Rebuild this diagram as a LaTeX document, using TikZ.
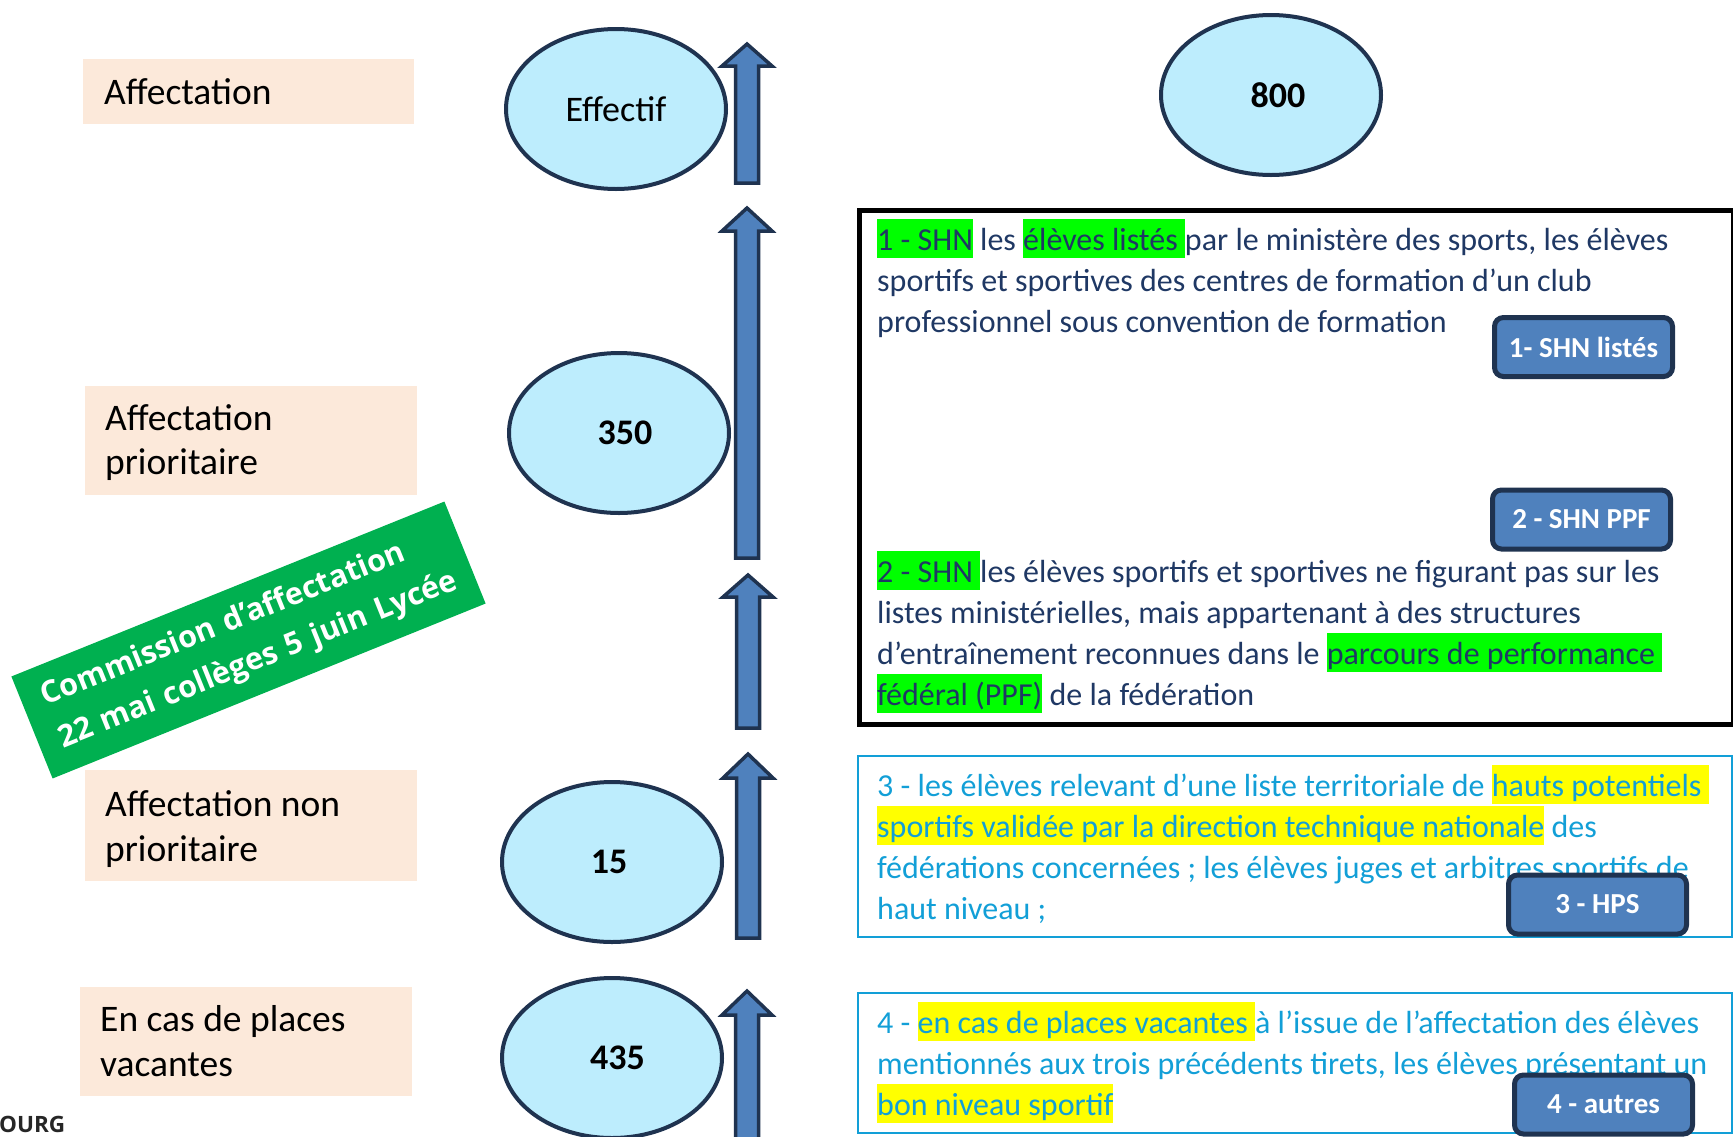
\documentclass[tikz,border=0pt]{standalone}
\usepackage{fontspec}
\setmainfont{Carlito}
\newfontfamily\bannerfont{Open Sans}
\usetikzlibrary{shapes.geometric}
\definecolor{peach}{HTML}{FCE9DA}
\definecolor{ellfill}{HTML}{BDEDFD}
\definecolor{navyline}{HTML}{1F3350}
\definecolor{arrowblue}{HTML}{4F81BD}
\definecolor{bannergreen}{HTML}{00B050}
\definecolor{hlgreen}{HTML}{00FF00}
\definecolor{hlyellow}{HTML}{FFFF00}
\definecolor{navytext}{HTML}{1F3864}
\definecolor{cyantext}{HTML}{129FD7}
\newcommand\hlbox[2]{{\setlength\fboxsep{0pt}\colorbox{#1}{\rule[-8pt]{0pt}{39pt}#2}}}
\newcommand\blockarrow[4]{%
  \draw[arrowbody] ({#1-11.5},#4) -- ({#1-11.5},#3) -- ({#1-25},#3) -- (#1,#2) -- ({#1+25},#3) -- ({#1+11.5},#3) -- ({#1+11.5},#4) -- cycle;}
\tikzset{
  peachbox/.style={fill=peach, inner sep=0, outer sep=0, anchor=north west},
  lefttxt/.style={anchor=base west, inner sep=0, font=\fontsize{37.5}{45}\selectfont},
  ellnode/.style={ellipse, draw=navyline, line width=4pt, fill=ellfill, minimum width=220pt, minimum height=160pt, inner sep=0, font=\fontsize{36}{43}\selectfont},
  arrowbody/.style={fill=arrowblue, draw=navyline, line width=3.5pt, line join=miter},
  navyline1/.style={anchor=base west, inner sep=0, text=navytext, font=\fontsize{32}{40}\selectfont},
  cyanline1/.style={anchor=base west, inner sep=0, text=cyantext, font=\fontsize{32}{40}\selectfont},
  btn/.style={rounded corners=9pt, fill=arrowblue, draw=navyline, line width=5pt, minimum width=178pt, minimum height=59pt, inner sep=0, text=white, font=\bfseries\fontsize{29}{34}\selectfont},
  cyanbox/.style={draw=cyantext, line width=2.5pt, inner sep=0, outer sep=0, anchor=north west},
  blackbox/.style={draw=black, line width=5pt, inner sep=0, outer sep=0, anchor=north west},
  banner/.style={rotate=22, fill=bannergreen, text=white, minimum width=467pt, minimum height=110pt, align=left, text width=455pt, inner xsep=6pt, inner ysep=0pt, font=\bannerfont\bfseries\fontsize{30.5}{46}\selectfont}
}
\begin{document}
\begin{tikzpicture}[x=1pt, y=-1pt]
\useasboundingbox (0,0) rectangle (1733,1136);
\begin{scope}
\clip (0,0) rectangle (1733,1136);
% peach boxes
\node[peachbox, minimum width=331pt, minimum height=65pt] (pb1) at (83,59) {};
\node[peachbox, minimum width=332pt, minimum height=109pt] (pb2) at (85,386) {};
\node[peachbox, minimum width=332pt, minimum height=111pt] (pb3) at (85,770) {};
\node[peachbox, minimum width=332pt, minimum height=109pt] (pb4) at (80,987) {};
\node[lefttxt] (a1) at (104,104) {Affectation};
\node[lefttxt] (a2) at (105,430) {Affectation};
\node[lefttxt] (a3) at (105,474) {prioritaire};
\node[lefttxt] (a4) at (105,816) {Affectation non};
\node[lefttxt] (a5) at (105,861) {prioritaire};
\node[lefttxt] (a6) at (100,1031) {En cas de places};
\node[lefttxt] (a7) at (100,1076) {vacantes};
% ellipses
\node[ellnode] (e1) at (616,109) {Effectif};
\node[ellnode] (e2) at (619,433) {\bfseries\hspace*{12pt}350};
\node[ellnode] (e3) at (612,862) {\bfseries 15\hspace*{6pt}};
\node[ellnode] (e4) at (612,1058) {\bfseries\hspace*{11pt}435};
\node[ellnode] (e5) at (1271,95) {\bfseries\hspace*{14pt}800};
% arrows
\blockarrow{747}{44}{66}{183}
\blockarrow{747}{208}{231}{558}
\blockarrow{748}{575}{597}{728}
\blockarrow{748}{754}{778}{938}
\blockarrow{747}{991}{1015}{1150}
% banner
\node[banner] (banner) at (248.5,640) {\hspace*{15pt}\mbox{Commission d’affectation}\\\hspace*{15pt}\mbox{22 mai collèges 5 juin Lycée}};
% black box
\node[blackbox, minimum width=874pt, minimum height=514.5pt] (box12) at (859.5,210) {};
\node[navyline1] (b1) at (877,250) {\hlbox{hlgreen}{1 - SHN} les \hlbox{hlgreen}{élèves listés }par le ministère des sports, les élèves};
\node[navyline1] (b2) at (877,291) {sportifs et sportives des centres de formation d’un club};
\node[navyline1] (b3) at (877,332) {professionnel sous convention de formation};
\node[navyline1] (b4) at (877,582) {\hlbox{hlgreen}{2 - SHN }les élèves sportifs et sportives ne figurant pas sur les};
\node[navyline1] (b5) at (877,623) {listes ministérielles, mais appartenant à des structures};
\node[navyline1] (b6) at (877,664) {d’entraînement reconnues dans le \hlbox{hlgreen}{parcours de performance }};
\node[navyline1] (b7) at (877,705) {\hlbox{hlgreen}{fédéral (PPF)} de la fédération};
% box 3
\node[cyanbox, minimum width=874pt, minimum height=181pt] (box3) at (858,756) {};
\node[cyanline1] (c1) at (877,796) {3 - les élèves relevant d’une liste territoriale de \hlbox{hlyellow}{hauts potentiels }};
\node[cyanline1] (c2) at (877,837) {\hlbox{hlyellow}{sportifs validée par la direction technique nationale} des};
\node[cyanline1] (c3) at (877,878) {fédérations concernées ; les élèves juges et arbitres sportifs de};
\node[cyanline1] (c4) at (877,919) {haut niveau ;};
% box 4
\node[cyanbox, minimum width=874pt, minimum height=140pt] (box4) at (858,993) {};
\node[cyanline1] (d1) at (877,1033) {4 - \hlbox{hlyellow}{en cas de places vacantes }à l’issue de l’affectation des élèves};
\node[cyanline1] (d2) at (877,1074) {mentionnés aux trois précédents tirets, les élèves présentant un};
\node[cyanline1] (d3) at (877,1115) {\hlbox{hlyellow}{bon niveau sportif}};
% buttons
\node[btn] (k1) at (1583.5,347) {1- SHN listés};
\node[btn] (k2) at (1581.5,519.5) {2 - SHN PPF};
\node[btn] (k3) at (1597.5,904.5) {3 - HPS};
\node[btn] (k4) at (1603.5,1104.5) {4 - autres};
% cut logo text
\node[anchor=base west, inner sep=0, text=black!85, font=\bannerfont\bfseries\fontsize{22.5}{26}\selectfont] (ourg) at (-1,1132) {OURG};
\end{scope}
\end{tikzpicture}
\end{document}
